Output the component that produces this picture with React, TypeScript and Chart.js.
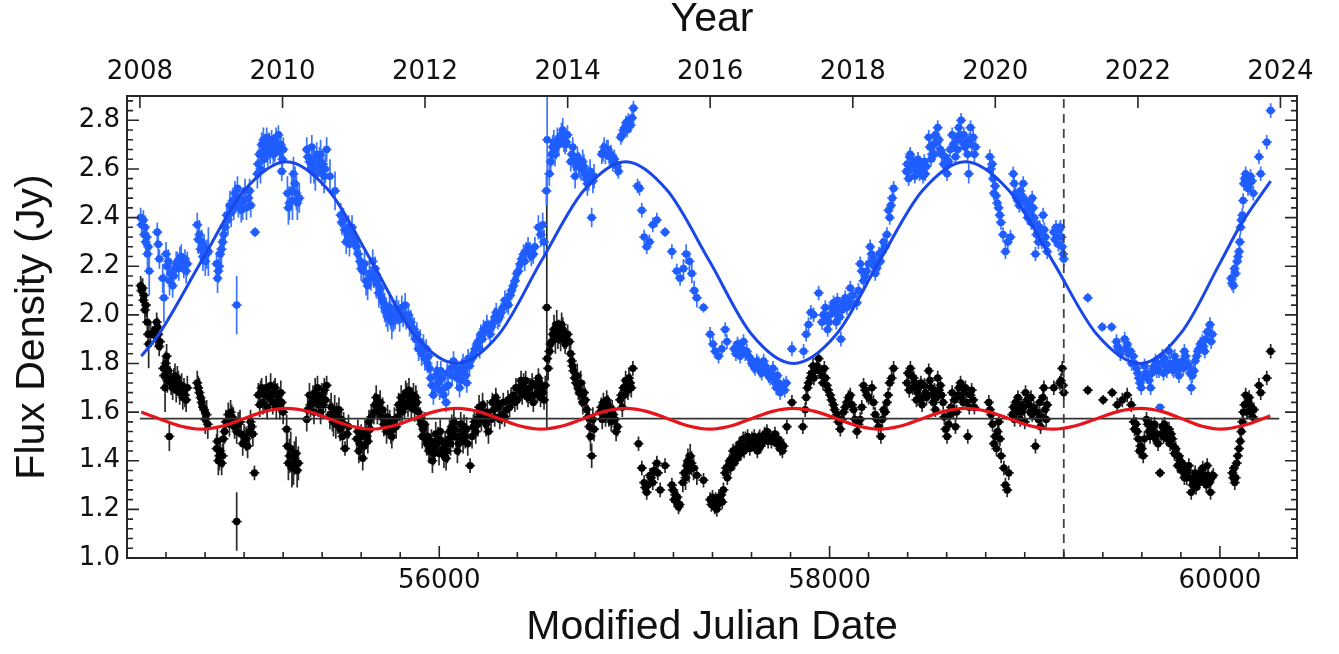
import React, { useEffect, useRef } from "react";
import { Chart, registerables } from "chart.js";

Chart.register(...registerables);

// ---------- axes ----------
const X_MIN = 54400;
const X_MAX = 60395;
const Y_MIN = 1.0;
const Y_MAX = 2.9;
const yearLabels = ["2008", "2010", "2012", "2014", "2016", "2018", "2020", "2022", "2024"];
const yearMjd = [54466, 55197, 55927, 56658, 57388, 58119, 58849, 59580, 60310];
const mjdStep = 200;
const mjdMajorStep = 2000;
const fluxStep = 0.04;
const fluxMajorEvery = 5;

// ---------- observations: [MJD, flux (Jy), error (Jy)] ----------
const blueObs: [number, number, number][] = [
  [54470, 2.4, 0.04], [54484, 2.39, 0.04], [54492, 2.36, 0.05], [54501, 2.32, 0.05], [54509, 2.28, 0.06], [54514, 2.18, 0.1],
  [54475, 2.37, 0.04], [54488, 2.33, 0.05], [54496, 2.3, 0.05], [54505, 2.25, 0.06],
  [54555, 2.34, 0.04], [54560, 2.29, 0.05], [54566, 2.23, 0.04],
  [54583, 2.15, 0.06], [54589, 2.07, 0.1], [54600, 2.25, 0.05], [54612, 2.22, 0.05], [54624, 2.17, 0.05], [54634, 2.12, 0.05], [54646, 2.19, 0.04],
  [54604, 2.2, 0.05], [54618, 2.14, 0.06], [54640, 2.16, 0.05], [54652, 2.21, 0.05], [54665, 2.19, 0.05], [54678, 2.24, 0.05], [54691, 2.2, 0.05], [54703, 2.18, 0.05],
  [54658, 2.22, 0.04], [54671, 2.23, 0.05], [54685, 2.21, 0.04], [54697, 2.23, 0.04], [54709, 2.21, 0.05],
  [54760, 2.37, 0.05], [54771, 2.33, 0.06], [54783, 2.3, 0.05], [54795, 2.28, 0.05], [54808, 2.25, 0.06], [54817, 2.26, 0.1],
  [54765, 2.31, 0.06], [54777, 2.27, 0.06], [54789, 2.24, 0.06], [54801, 2.22, 0.06],
  [54859, 2.21, 0.05], [54868, 2.18, 0.05], [54877, 2.25, 0.06], [54890, 2.3, 0.06], [54902, 2.36, 0.06],
  [54864, 2.15, 0.06], [54872, 2.2, 0.06], [54884, 2.27, 0.06], [54896, 2.33, 0.06],
  [54911, 2.41, 0.05], [54928, 2.45, 0.06], [54941, 2.47, 0.05], [54953, 2.5, 0.05], [54971, 2.45, 0.05], [54979, 2.48, 0.05],
  [54917, 2.39, 0.06], [54934, 2.42, 0.06], [54947, 2.44, 0.05], [54958, 2.47, 0.05], [54966, 2.52, 0.05], [54985, 2.43, 0.05], [54999, 2.47, 0.05], [55012, 2.44, 0.05], [55028, 2.51, 0.05],
  [54962, 2.04, 0.12],
  [54993, 2.44, 0.05], [55005, 2.51, 0.05], [55022, 2.48, 0.05], [55034, 2.45, 0.05],
  [55056, 2.34, 0.02],
  [55068, 2.58, 0.06], [55078, 2.66, 0.05], [55090, 2.7, 0.05], [55099, 2.72, 0.05], [55107, 2.69, 0.05], [55116, 2.73, 0.04],
  [55072, 2.62, 0.06], [55084, 2.6, 0.06], [55095, 2.67, 0.05], [55103, 2.64, 0.05], [55112, 2.68, 0.05], [55121, 2.66, 0.05], [55134, 2.67, 0.05], [55146, 2.69, 0.05], [55158, 2.68, 0.05], [55169, 2.7, 0.05], [55182, 2.67, 0.05], [55196, 2.64, 0.05],
  [55129, 2.7, 0.05], [55141, 2.72, 0.04], [55150, 2.66, 0.05], [55164, 2.73, 0.04], [55176, 2.74, 0.04], [55188, 2.7, 0.05], [55201, 2.68, 0.05], [55193, 2.59, 0.04],
  [55222, 2.5, 0.07], [55232, 2.46, 0.07], [55244, 2.51, 0.08], [55253, 2.58, 0.07], [55261, 2.54, 0.07], [55273, 2.46, 0.07], [55283, 2.48, 0.06],
  [55227, 2.44, 0.07], [55248, 2.47, 0.08], [55268, 2.5, 0.07],
  [55321, 2.68, 0.05], [55335, 2.63, 0.05], [55347, 2.69, 0.05], [55358, 2.61, 0.07], [55372, 2.66, 0.05], [55386, 2.63, 0.06], [55398, 2.59, 0.06], [55410, 2.57, 0.07], [55423, 2.68, 0.05],
  [55327, 2.65, 0.05], [55341, 2.6, 0.06], [55352, 2.64, 0.06], [55365, 2.58, 0.07], [55378, 2.61, 0.06], [55392, 2.66, 0.06], [55404, 2.62, 0.06], [55416, 2.6, 0.06],
  [55440, 2.57, 0.07], [55466, 2.51, 0.08],
  [55495, 2.41, 0.05], [55509, 2.39, 0.05], [55523, 2.3, 0.05], [55535, 2.36, 0.05], [55546, 2.33, 0.05], [55560, 2.32, 0.05], [55577, 2.28, 0.05],
  [55500, 2.38, 0.05], [55516, 2.35, 0.05], [55529, 2.33, 0.05], [55540, 2.29, 0.05], [55553, 2.36, 0.05], [55567, 2.3, 0.05], [55584, 2.25, 0.05],
  [55594, 2.22, 0.05], [55611, 2.18, 0.05], [55625, 2.14, 0.06], [55642, 2.17, 0.05], [55659, 2.22, 0.05], [55671, 2.19, 0.05], [55683, 2.14, 0.06], [55697, 2.11, 0.06],
  [55600, 2.19, 0.05], [55617, 2.21, 0.05], [55633, 2.12, 0.06], [55650, 2.15, 0.05], [55665, 2.16, 0.05], [55677, 2.13, 0.06], [55690, 2.09, 0.06], [55704, 2.07, 0.06],
  [55714, 2.05, 0.06], [55728, 2.01, 0.06], [55745, 2.03, 0.06], [55757, 1.97, 0.07], [55774, 2.0, 0.06], [55791, 2.01, 0.05], [55808, 2.03, 0.05], [55825, 2.04, 0.05], [55842, 2.0, 0.05], [55854, 1.97, 0.05],
  [55720, 2.03, 0.06], [55736, 1.99, 0.06], [55751, 2.0, 0.06], [55765, 1.99, 0.06], [55781, 2.02, 0.06], [55797, 1.98, 0.05], [55815, 2.0, 0.05], [55831, 1.99, 0.05], [55848, 1.96, 0.05], [55860, 1.95, 0.05],
  [55871, 1.94, 0.05], [55885, 1.92, 0.05], [55902, 1.89, 0.05], [55919, 1.87, 0.05], [55933, 1.86, 0.04], [55945, 1.83, 0.04],
  [55878, 1.9, 0.05], [55894, 1.86, 0.05], [55910, 1.84, 0.05], [55926, 1.82, 0.05], [55940, 1.8, 0.04],
  [55950, 1.78, 0.04], [55962, 1.71, 0.05], [55970, 1.67, 0.04], [55984, 1.75, 0.04], [55996, 1.72, 0.04], [56008, 1.77, 0.04], [56022, 1.67, 0.04], [56035, 1.64, 0.04], [56047, 1.71, 0.04],
  [55956, 1.74, 0.04], [55977, 1.7, 0.04], [55990, 1.77, 0.04], [56002, 1.69, 0.04], [56015, 1.74, 0.04], [56028, 1.7, 0.04], [56041, 1.76, 0.04],
  [56059, 1.78, 0.04], [56073, 1.81, 0.04], [56090, 1.74, 0.04], [56104, 1.7, 0.04], [56116, 1.78, 0.04], [56128, 1.77, 0.04], [56141, 1.72, 0.04], [56155, 1.79, 0.04],
  [56066, 1.75, 0.04], [56082, 1.78, 0.04], [56097, 1.76, 0.04], [56110, 1.73, 0.04], [56122, 1.8, 0.04], [56135, 1.75, 0.04], [56148, 1.82, 0.04],
  [56167, 1.82, 0.04], [56184, 1.86, 0.04], [56201, 1.89, 0.04], [56213, 1.92, 0.04], [56227, 1.94, 0.04], [56244, 1.96, 0.04], [56261, 1.92, 0.04], [56278, 1.97, 0.04],
  [56175, 1.84, 0.04], [56192, 1.88, 0.04], [56207, 1.86, 0.04], [56220, 1.9, 0.04], [56235, 1.93, 0.04], [56252, 1.94, 0.04], [56268, 1.95, 0.04], [56285, 1.99, 0.04],
  [56292, 2.01, 0.04], [56309, 1.99, 0.04], [56326, 2.03, 0.04], [56346, 2.05, 0.04], [56363, 2.08, 0.04],
  [56300, 1.98, 0.04], [56318, 2.01, 0.04], [56336, 2.06, 0.04], [56354, 2.04, 0.04], [56370, 2.1, 0.04], [56388, 2.14, 0.04], [56405, 2.18, 0.04], [56423, 2.23, 0.04], [56438, 2.22, 0.04], [56455, 2.28, 0.04], [56472, 2.24, 0.04], [56490, 2.28, 0.04],
  [56380, 2.12, 0.04], [56397, 2.17, 0.04], [56415, 2.21, 0.04], [56432, 2.25, 0.04], [56445, 2.26, 0.04],
  [56465, 2.26, 0.04], [56482, 2.25, 0.04],
  [56508, 2.36, 0.05], [56520, 2.33, 0.05], [56530, 2.37, 0.05], [56537, 2.3, 0.05],
  [56549, 2.51, 0.06], [56553, 2.72, 0.25],
  [56564, 2.58, 0.05], [56571, 2.63, 0.05], [56581, 2.69, 0.05], [56593, 2.66, 0.05], [56605, 2.72, 0.05], [56619, 2.73, 0.04], [56633, 2.76, 0.05], [56645, 2.7, 0.04], [56657, 2.74, 0.04],
  [56575, 2.66, 0.05], [56587, 2.71, 0.05], [56599, 2.69, 0.05], [56612, 2.7, 0.05], [56626, 2.74, 0.05], [56639, 2.72, 0.05], [56651, 2.71, 0.04],
  [56674, 2.63, 0.04], [56684, 2.69, 0.04], [56696, 2.57, 0.05], [56708, 2.65, 0.04], [56722, 2.61, 0.05], [56735, 2.63, 0.05], [56747, 2.58, 0.05], [56759, 2.54, 0.05], [56773, 2.59, 0.05], [56781, 2.4, 0.04], [56793, 2.57, 0.05],
  [56679, 2.66, 0.04], [56690, 2.64, 0.05], [56702, 2.61, 0.05], [56715, 2.62, 0.05], [56728, 2.6, 0.05], [56741, 2.61, 0.05], [56753, 2.56, 0.05], [56766, 2.56, 0.05], [56787, 2.55, 0.05],
  [56833, 2.66, 0.04], [56845, 2.69, 0.04], [56858, 2.68, 0.04], [56872, 2.65, 0.04], [56889, 2.63, 0.04], [56906, 2.62, 0.04], [56918, 2.59, 0.03],
  [56839, 2.67, 0.04], [56851, 2.66, 0.04], [56865, 2.68, 0.04], [56880, 2.66, 0.04], [56897, 2.64, 0.04], [56912, 2.61, 0.04],
  [56930, 2.73, 0.03], [56944, 2.76, 0.03], [56957, 2.79, 0.03], [56969, 2.8, 0.03], [56981, 2.78, 0.03], [56995, 2.85, 0.03],
  [56937, 2.74, 0.03], [56950, 2.77, 0.03], [56963, 2.76, 0.03], [56975, 2.79, 0.03], [56988, 2.81, 0.03],
  [57016, 2.53, 0.03], [57026, 2.52, 0.03], [57038, 2.43, 0.03], [57050, 2.32, 0.03], [57063, 2.28, 0.03], [57077, 2.3, 0.03], [57094, 2.37, 0.03], [57115, 2.39, 0.03], [57157, 2.34, 0.02],
  [57192, 2.26, 0.03], [57217, 2.18, 0.03], [57234, 2.15, 0.03], [57251, 2.19, 0.04], [57265, 2.25, 0.04], [57282, 2.22, 0.04], [57294, 2.17, 0.04], [57306, 2.1, 0.04], [57320, 2.07, 0.04],
  [57354, 2.03, 0.02],
  [57388, 1.92, 0.03], [57402, 1.88, 0.03], [57414, 1.85, 0.03], [57431, 1.83, 0.03], [57448, 1.86, 0.03], [57465, 1.94, 0.03], [57474, 1.89, 0.03],
  [57511, 1.86, 0.03], [57528, 1.88, 0.03], [57542, 1.83, 0.03], [57559, 1.89, 0.03], [57576, 1.85, 0.03], [57593, 1.82, 0.03], [57610, 1.79, 0.03], [57627, 1.81, 0.03], [57645, 1.77, 0.03],
  [57520, 1.84, 0.03], [57535, 1.87, 0.03], [57550, 1.86, 0.03], [57568, 1.84, 0.03], [57585, 1.83, 0.03], [57602, 1.8, 0.03], [57618, 1.78, 0.03], [57636, 1.8, 0.03], [57652, 1.76, 0.03],
  [57662, 1.81, 0.03], [57679, 1.77, 0.03], [57696, 1.74, 0.03], [57710, 1.78, 0.03], [57721, 1.72, 0.03], [57733, 1.75, 0.03], [57747, 1.68, 0.03], [57764, 1.71, 0.03], [57778, 1.72, 0.03],
  [57670, 1.79, 0.03], [57688, 1.75, 0.03], [57704, 1.76, 0.03], [57716, 1.74, 0.03], [57727, 1.7, 0.03], [57740, 1.72, 0.03], [57755, 1.7, 0.03], [57770, 1.69, 0.03],
  [57807, 1.86, 0.03],
  [57867, 1.85, 0.03], [57880, 1.92, 0.03], [57892, 1.96, 0.03], [57904, 2.01, 0.03], [57918, 2.0, 0.03],
  [57944, 2.09, 0.03],
  [57961, 1.97, 0.03], [57978, 2.03, 0.03], [57990, 1.94, 0.03], [58003, 2.0, 0.03], [58020, 2.05, 0.03], [58034, 1.97, 0.03], [58046, 2.03, 0.03], [58058, 1.9, 0.03], [58072, 2.05, 0.03], [58089, 2.03, 0.03], [58106, 2.11, 0.03], [58120, 2.08, 0.03],
  [57968, 2.0, 0.03], [57984, 1.99, 0.03], [57997, 1.97, 0.03], [58010, 2.03, 0.03], [58027, 2.01, 0.03], [58040, 2.06, 0.03], [58052, 1.99, 0.03], [58065, 2.02, 0.03], [58080, 2.07, 0.03], [58097, 2.06, 0.03], [58113, 2.04, 0.03],
  [58140, 2.05, 0.03], [58157, 2.21, 0.03], [58174, 2.14, 0.03], [58191, 2.18, 0.03], [58208, 2.28, 0.03], [58222, 2.23, 0.03],
  [58148, 2.1, 0.03], [58165, 2.18, 0.03], [58182, 2.16, 0.03], [58199, 2.21, 0.03], [58215, 2.25, 0.03], [58228, 2.2, 0.03], [58240, 2.19, 0.03], [58253, 2.25, 0.03], [58268, 2.26, 0.03], [58285, 2.28, 0.03], [58308, 2.4, 0.03], [58321, 2.48, 0.03],
  [58234, 2.17, 0.03], [58246, 2.21, 0.03], [58260, 2.22, 0.03], [58277, 2.3, 0.03], [58294, 2.33, 0.03], [58302, 2.43, 0.03], [58315, 2.45, 0.03], [58328, 2.52, 0.03],
  [58394, 2.59, 0.03], [58400, 2.59, 0.03], [58411, 2.65, 0.03], [58413, 2.66, 0.03], [58428, 2.62, 0.03], [58431, 2.63, 0.03], [58445, 2.59, 0.03], [58448, 2.61, 0.03], [58461, 2.58, 0.03], [58462, 2.62, 0.03], [58479, 2.57, 0.03], [58496, 2.61, 0.03],
  [58398, 2.62, 0.03], [58405, 2.56, 0.03], [58418, 2.6, 0.03], [58437, 2.57, 0.03], [58453, 2.64, 0.03], [58468, 2.6, 0.03], [58485, 2.63, 0.03], [58490, 2.58, 0.03],
  [58508, 2.73, 0.03], [58525, 2.66, 0.03], [58542, 2.74, 0.03], [58554, 2.77, 0.03], [58568, 2.68, 0.03], [58585, 2.62, 0.03], [58602, 2.58, 0.03], [58628, 2.74, 0.03],
  [58514, 2.69, 0.03], [58520, 2.64, 0.03], [58531, 2.7, 0.03], [58537, 2.66, 0.03], [58548, 2.71, 0.03], [58560, 2.72, 0.03], [58574, 2.66, 0.03], [58591, 2.65, 0.03], [58596, 2.61, 0.03], [58610, 2.63, 0.03], [58618, 2.68, 0.03], [58635, 2.7, 0.03],
  [58645, 2.65, 0.03], [58662, 2.77, 0.03], [58674, 2.8, 0.03], [58688, 2.74, 0.03], [58701, 2.7, 0.03], [58713, 2.58, 0.04], [58722, 2.77, 0.03], [58736, 2.73, 0.03], [58748, 2.69, 0.03],
  [58650, 2.72, 0.03], [58656, 2.68, 0.03], [58668, 2.74, 0.03], [58680, 2.71, 0.03], [58693, 2.69, 0.03], [58707, 2.66, 0.03], [58716, 2.72, 0.03], [58728, 2.7, 0.03], [58742, 2.66, 0.03],
  [58821, 2.65, 0.03], [58833, 2.62, 0.03], [58842, 2.5, 0.03], [58859, 2.46, 0.03], [58872, 2.41, 0.03],
  [58826, 2.6, 0.03], [58838, 2.56, 0.03], [58848, 2.53, 0.03], [58853, 2.49, 0.03], [58866, 2.44, 0.03], [58878, 2.38, 0.03],
  [58889, 2.33, 0.03], [58901, 2.26, 0.03], [58913, 2.3, 0.03], [58927, 2.32, 0.03],
  [58941, 2.58, 0.03], [58953, 2.5, 0.03], [58965, 2.47, 0.03], [58978, 2.51, 0.03], [58992, 2.54, 0.03], [59004, 2.43, 0.03], [59021, 2.45, 0.03], [59038, 2.48, 0.03], [59047, 2.4, 0.03],
  [58946, 2.54, 0.03], [58959, 2.48, 0.03], [58972, 2.45, 0.03], [58985, 2.49, 0.03], [58998, 2.47, 0.03], [59010, 2.46, 0.03], [59015, 2.4, 0.03], [59027, 2.42, 0.03], [59033, 2.38, 0.03], [59043, 2.44, 0.03],
  [59055, 2.25, 0.03], [59064, 2.37, 0.03], [59081, 2.34, 0.03], [59094, 2.41, 0.03], [59106, 2.32, 0.03], [59115, 2.26, 0.03],
  [59060, 2.33, 0.03], [59070, 2.3, 0.03], [59076, 2.36, 0.03], [59087, 2.3, 0.03], [59100, 2.35, 0.03], [59110, 2.29, 0.03],
  [59149, 2.34, 0.03], [59166, 2.32, 0.03], [59183, 2.36, 0.03], [59192, 2.28, 0.03], [59200, 2.23, 0.03],
  [59155, 2.31, 0.03], [59160, 2.36, 0.03], [59172, 2.29, 0.03], [59177, 2.35, 0.03], [59188, 2.32, 0.03], [59196, 2.25, 0.03],
  [59323, 2.07, 0.02],
  [59397, 1.95, 0.02], [59445, 1.95, 0.02],
  [59470, 1.89, 0.03], [59482, 1.86, 0.03], [59512, 1.9, 0.03], [59525, 1.88, 0.03], [59542, 1.85, 0.03], [59556, 1.83, 0.03],
  [59476, 1.87, 0.03], [59490, 1.84, 0.03], [59518, 1.86, 0.03], [59530, 1.84, 0.03], [59548, 1.8, 0.03], [59562, 1.8, 0.03],
  [59573, 1.78, 0.03], [59585, 1.74, 0.03], [59597, 1.7, 0.03], [59614, 1.79, 0.03], [59631, 1.75, 0.03], [59645, 1.7, 0.03], [59658, 1.78, 0.03],
  [59579, 1.76, 0.03], [59591, 1.72, 0.03], [59603, 1.74, 0.03], [59620, 1.76, 0.03], [59637, 1.73, 0.03], [59651, 1.76, 0.03], [59664, 1.79, 0.03],
  [59670, 1.81, 0.03], [59688, 1.77, 0.03], [59693, 1.62, 0.01], [59705, 1.83, 0.03], [59722, 1.79, 0.03], [59739, 1.85, 0.03], [59756, 1.78, 0.03], [59773, 1.81, 0.03], [59790, 1.75, 0.03], [59807, 1.81, 0.03], [59824, 1.83, 0.03], [59841, 1.79, 0.03], [59853, 1.7, 0.03], [59867, 1.77, 0.03],
  [59676, 1.77, 0.03], [59682, 1.8, 0.03], [59699, 1.8, 0.03], [59711, 1.76, 0.03], [59716, 1.82, 0.03], [59728, 1.77, 0.03], [59745, 1.8, 0.03], [59762, 1.77, 0.03], [59768, 1.83, 0.03], [59779, 1.79, 0.03], [59796, 1.78, 0.03], [59813, 1.78, 0.03], [59818, 1.85, 0.03], [59830, 1.8, 0.03], [59847, 1.76, 0.03], [59858, 1.75, 0.03], [59873, 1.81, 0.03],
  [59881, 1.83, 0.03], [59893, 1.86, 0.03], [59910, 1.89, 0.03], [59922, 1.85, 0.03], [59935, 1.93, 0.03], [59949, 1.96, 0.03], [59961, 1.92, 0.03],
  [59887, 1.85, 0.03], [59900, 1.88, 0.03], [59916, 1.87, 0.03], [59928, 1.9, 0.03], [59942, 1.93, 0.03], [59955, 1.89, 0.03],
  [60058, 2.15, 0.03], [60069, 2.12, 0.03], [60081, 2.17, 0.03], [60089, 2.22, 0.03], [60098, 2.26, 0.03],
  [60062, 2.13, 0.03], [60075, 2.19, 0.03], [60093, 2.24, 0.03], [60102, 2.3, 0.03], [60110, 2.39, 0.03], [60119, 2.47, 0.03], [60127, 2.56, 0.03], [60138, 2.55, 0.03], [60150, 2.54, 0.03], [60164, 2.55, 0.03],
  [60106, 2.36, 0.03], [60115, 2.41, 0.03], [60123, 2.54, 0.03], [60132, 2.58, 0.03], [60144, 2.52, 0.03], [60157, 2.57, 0.03], [60171, 2.5, 0.03],
  [60200, 2.65, 0.03], [60209, 2.58, 0.03], [60240, 2.71, 0.03], [60260, 2.84, 0.03],
];

const blackObs: [number, number, number][] = [
  [54470, 2.12, 0.04], [54480, 2.11, 0.04], [54487, 2.08, 0.04], [54497, 2.04, 0.05], [54504, 1.97, 0.05], [54511, 1.88, 0.1], [54521, 1.92, 0.05],
  [54474, 2.1, 0.04], [54484, 2.06, 0.04], [54492, 2.02, 0.04], [54508, 1.92, 0.06],
  [54543, 1.94, 0.04], [54552, 1.97, 0.04], [54560, 1.92, 0.04], [54569, 1.89, 0.04],
  [54548, 1.91, 0.04], [54556, 1.95, 0.04], [54565, 1.87, 0.04],
  [54586, 1.78, 0.05], [54595, 1.7, 0.1], [54603, 1.83, 0.05], [54612, 1.77, 0.05], [54617, 1.5, 0.06], [54620, 1.74, 0.05], [54634, 1.7, 0.05],
  [54590, 1.75, 0.06], [54598, 1.8, 0.05], [54607, 1.73, 0.05], [54626, 1.72, 0.05], [54640, 1.73, 0.05],
  [54646, 1.75, 0.05], [54663, 1.72, 0.05], [54680, 1.71, 0.05], [54697, 1.67, 0.05], [54709, 1.7, 0.05],
  [54652, 1.69, 0.05], [54658, 1.74, 0.05], [54670, 1.68, 0.05], [54686, 1.66, 0.05], [54692, 1.69, 0.05], [54703, 1.65, 0.05],
  [54760, 1.72, 0.05], [54771, 1.68, 0.06], [54783, 1.64, 0.05], [54795, 1.61, 0.05], [54808, 1.59, 0.06],
  [54765, 1.7, 0.05], [54777, 1.66, 0.05], [54789, 1.62, 0.05], [54801, 1.57, 0.06], [54814, 1.55, 0.06],
  [54859, 1.45, 0.06], [54873, 1.42, 0.06], [54885, 1.39, 0.05], [54894, 1.49, 0.05], [54907, 1.56, 0.05],
  [54863, 1.48, 0.06], [54868, 1.4, 0.06], [54878, 1.44, 0.06], [54890, 1.42, 0.05], [54900, 1.52, 0.05],
  [54919, 1.59, 0.05], [54931, 1.6, 0.05], [54945, 1.57, 0.05], [54962, 1.52, 0.05], [54979, 1.56, 0.05],
  [54925, 1.55, 0.05], [54937, 1.58, 0.05], [54951, 1.54, 0.05], [54970, 1.55, 0.05], [54985, 1.51, 0.05],
  [54962, 1.15, 0.12],
  [54993, 1.47, 0.05], [55010, 1.49, 0.05], [55027, 1.52, 0.05], [55039, 1.54, 0.05], [55053, 1.35, 0.03],
  [55000, 1.5, 0.05], [55018, 1.46, 0.05], [55033, 1.56, 0.05], [55045, 1.51, 0.05],
  [55073, 1.67, 0.05], [55090, 1.7, 0.04], [55107, 1.67, 0.04], [55124, 1.68, 0.04], [55141, 1.67, 0.04], [55159, 1.7, 0.04], [55176, 1.65, 0.04], [55193, 1.64, 0.04],
  [55080, 1.63, 0.05], [55085, 1.68, 0.05], [55097, 1.64, 0.05], [55113, 1.7, 0.05], [55118, 1.62, 0.05], [55130, 1.66, 0.05], [55136, 1.71, 0.05], [55147, 1.64, 0.05], [55153, 1.68, 0.05], [55165, 1.62, 0.05], [55170, 1.67, 0.05], [55183, 1.62, 0.05], [55188, 1.68, 0.05], [55200, 1.6, 0.05],
  [55218, 1.53, 0.06], [55227, 1.39, 0.07], [55239, 1.45, 0.07], [55253, 1.38, 0.08], [55266, 1.43, 0.07], [55278, 1.39, 0.07],
  [55222, 1.46, 0.07], [55233, 1.42, 0.07], [55245, 1.37, 0.08], [55258, 1.41, 0.07], [55272, 1.36, 0.07],
  [55321, 1.57, 0.05], [55335, 1.67, 0.05], [55347, 1.64, 0.05], [55364, 1.68, 0.06], [55381, 1.63, 0.05], [55398, 1.67, 0.05], [55423, 1.71, 0.04],
  [55326, 1.61, 0.05], [55340, 1.63, 0.05], [55353, 1.66, 0.05], [55358, 1.6, 0.05], [55370, 1.65, 0.05], [55376, 1.7, 0.05], [55387, 1.66, 0.05], [55392, 1.6, 0.05], [55405, 1.63, 0.05], [55411, 1.69, 0.05], [55417, 1.65, 0.05],
  [55440, 1.59, 0.06], [55458, 1.56, 0.06], [55475, 1.59, 0.05], [55492, 1.53, 0.05], [55517, 1.45, 0.03], [55535, 1.54, 0.05],
  [55446, 1.62, 0.06], [55452, 1.58, 0.06], [55464, 1.61, 0.06], [55470, 1.55, 0.06], [55481, 1.56, 0.05], [55486, 1.61, 0.05], [55498, 1.57, 0.05], [55504, 1.5, 0.05], [55510, 1.55, 0.05], [55528, 1.51, 0.05],
  [55577, 1.49, 0.05], [55594, 1.47, 0.05], [55608, 1.41, 0.05], [55628, 1.5, 0.05], [55646, 1.53, 0.05],
  [55583, 1.52, 0.05], [55588, 1.44, 0.05], [55600, 1.5, 0.05], [55615, 1.46, 0.05], [55620, 1.52, 0.05], [55634, 1.48, 0.05], [55640, 1.56, 0.05], [55652, 1.58, 0.05],
  [55671, 1.63, 0.05], [55683, 1.6, 0.05], [55697, 1.64, 0.05], [55723, 1.56, 0.05], [55740, 1.54, 0.05], [55757, 1.5, 0.05], [55779, 1.54, 0.05],
  [55665, 1.6, 0.05], [55677, 1.66, 0.05], [55690, 1.62, 0.05], [55703, 1.58, 0.05], [55710, 1.61, 0.05], [55716, 1.55, 0.05], [55730, 1.52, 0.05], [55735, 1.58, 0.05], [55746, 1.56, 0.05], [55752, 1.52, 0.05], [55763, 1.53, 0.05], [55770, 1.57, 0.05], [55786, 1.58, 0.05], [55792, 1.63, 0.05],
  [55799, 1.61, 0.05], [55816, 1.64, 0.05], [55834, 1.67, 0.05], [55851, 1.65, 0.05], [55868, 1.67, 0.05], [55885, 1.64, 0.05],
  [55805, 1.66, 0.05], [55810, 1.6, 0.05], [55822, 1.62, 0.05], [55828, 1.68, 0.05], [55840, 1.63, 0.05], [55845, 1.69, 0.05], [55857, 1.62, 0.05], [55862, 1.65, 0.05], [55874, 1.61, 0.05], [55880, 1.66, 0.05], [55893, 1.6, 0.05],
  [55902, 1.57, 0.05], [55919, 1.53, 0.05], [55936, 1.47, 0.05], [55953, 1.46, 0.05], [55970, 1.43, 0.05], [55987, 1.47, 0.05], [56005, 1.52, 0.05], [56018, 1.45, 0.05], [56035, 1.41, 0.05],
  [55908, 1.55, 0.05], [55913, 1.5, 0.05], [55925, 1.55, 0.05], [55930, 1.49, 0.05], [55942, 1.5, 0.05], [55947, 1.44, 0.05], [55960, 1.48, 0.05], [55965, 1.4, 0.05], [55977, 1.45, 0.05], [55982, 1.51, 0.05], [55994, 1.49, 0.05], [55999, 1.43, 0.05], [56011, 1.48, 0.05], [56024, 1.42, 0.05], [56030, 1.47, 0.05], [56041, 1.44, 0.05],
  [56047, 1.49, 0.05], [56064, 1.54, 0.05], [56081, 1.53, 0.05], [56099, 1.47, 0.05], [56116, 1.52, 0.05], [56133, 1.5, 0.05], [56158, 1.38, 0.03],
  [56053, 1.52, 0.05], [56058, 1.47, 0.05], [56070, 1.5, 0.05], [56075, 1.56, 0.05], [56087, 1.5, 0.05], [56093, 1.44, 0.05], [56105, 1.5, 0.05], [56110, 1.55, 0.05], [56122, 1.48, 0.05], [56127, 1.54, 0.05], [56140, 1.53, 0.05], [56146, 1.47, 0.05],
  [56175, 1.54, 0.05], [56193, 1.57, 0.05], [56210, 1.59, 0.05], [56227, 1.6, 0.05], [56252, 1.52, 0.05],
  [56168, 1.5, 0.05], [56180, 1.56, 0.05], [56187, 1.52, 0.05], [56198, 1.55, 0.05], [56204, 1.62, 0.05], [56216, 1.57, 0.05], [56222, 1.63, 0.05], [56234, 1.58, 0.05], [56240, 1.55, 0.05], [56246, 1.6, 0.05],
  [56278, 1.61, 0.04], [56295, 1.64, 0.04], [56321, 1.59, 0.04], [56346, 1.61, 0.04],
  [56265, 1.57, 0.04], [56272, 1.64, 0.04], [56284, 1.58, 0.04], [56290, 1.66, 0.04], [56303, 1.62, 0.04], [56310, 1.57, 0.04], [56328, 1.64, 0.04], [56335, 1.58, 0.04], [56352, 1.65, 0.04], [56360, 1.62, 0.04], [56368, 1.66, 0.04],
  [56380, 1.67, 0.04], [56406, 1.7, 0.04], [56432, 1.72, 0.04],
  [56387, 1.64, 0.04], [56393, 1.7, 0.04], [56400, 1.65, 0.04], [56412, 1.69, 0.04], [56419, 1.73, 0.04], [56425, 1.67, 0.04], [56438, 1.69, 0.04], [56443, 1.73, 0.04],
  [56448, 1.68, 0.04], [56465, 1.7, 0.04], [56482, 1.64, 0.04], [56508, 1.74, 0.04], [56525, 1.7, 0.04], [56537, 1.65, 0.04],
  [56455, 1.66, 0.04], [56470, 1.67, 0.04], [56476, 1.72, 0.04], [56488, 1.67, 0.04], [56495, 1.71, 0.04], [56502, 1.68, 0.04], [56514, 1.72, 0.04], [56519, 1.66, 0.04], [56531, 1.68, 0.04], [56543, 1.71, 0.04],
  [56551, 2.03, 0.5],
  [56553, 1.82, 0.05], [56564, 1.85, 0.05], [56576, 1.89, 0.05], [56588, 1.94, 0.06], [56602, 1.96, 0.06], [56616, 1.93, 0.05], [56633, 1.94, 0.05], [56650, 1.9, 0.04], [56667, 1.89, 0.04],
  [56558, 1.78, 0.05], [56570, 1.88, 0.05], [56582, 1.92, 0.05], [56595, 1.9, 0.06], [56608, 1.92, 0.06], [56622, 1.9, 0.05], [56627, 1.96, 0.05], [56640, 1.91, 0.05], [56645, 1.88, 0.04], [56658, 1.92, 0.04],
  [56679, 1.81, 0.04], [56687, 1.77, 0.04], [56701, 1.72, 0.05], [56713, 1.7, 0.05], [56730, 1.67, 0.05], [56742, 1.68, 0.05], [56756, 1.61, 0.05], [56769, 1.54, 0.06], [56781, 1.42, 0.05], [56793, 1.53, 0.05],
  [56673, 1.84, 0.04], [56683, 1.79, 0.04], [56694, 1.74, 0.05], [56707, 1.75, 0.05], [56719, 1.68, 0.05], [56725, 1.72, 0.05], [56736, 1.64, 0.05], [56748, 1.65, 0.05], [56762, 1.58, 0.05], [56775, 1.5, 0.06], [56787, 1.57, 0.05],
  [56824, 1.6, 0.04], [56841, 1.64, 0.04], [56858, 1.65, 0.04], [56875, 1.61, 0.04], [56892, 1.59, 0.04], [56913, 1.54, 0.04],
  [56830, 1.62, 0.04], [56835, 1.57, 0.04], [56847, 1.62, 0.04], [56852, 1.58, 0.04], [56864, 1.63, 0.04], [56869, 1.58, 0.04], [56881, 1.56, 0.04], [56886, 1.61, 0.04], [56899, 1.57, 0.04], [56906, 1.52, 0.04],
  [56927, 1.65, 0.04], [56944, 1.7, 0.04], [56961, 1.71, 0.04], [56978, 1.72, 0.04], [56992, 1.78, 0.03],
  [56933, 1.67, 0.04], [56938, 1.62, 0.04], [56950, 1.67, 0.04], [56955, 1.73, 0.04], [56967, 1.69, 0.04], [56972, 1.74, 0.04], [56984, 1.7, 0.04],
  [57021, 1.47, 0.03], [57038, 1.37, 0.03], [57050, 1.31, 0.03], [57063, 1.27, 0.03], [57080, 1.34, 0.03], [57094, 1.31, 0.03], [57115, 1.39, 0.03], [57132, 1.28, 0.03], [57157, 1.38, 0.03],
  [57055, 1.29, 0.03], [57070, 1.3, 0.03], [57086, 1.33, 0.03], [57100, 1.36, 0.03], [57120, 1.35, 0.03],
  [57192, 1.3, 0.03], [57209, 1.26, 0.03], [57226, 1.21, 0.03], [57248, 1.31, 0.04], [57268, 1.38, 0.05], [57286, 1.42, 0.05], [57303, 1.37, 0.05], [57320, 1.34, 0.04], [57354, 1.32, 0.03],
  [57198, 1.28, 0.03], [57204, 1.24, 0.03], [57215, 1.23, 0.03], [57220, 1.25, 0.03], [57232, 1.22, 0.03],
  [57255, 1.35, 0.05], [57262, 1.33, 0.05], [57274, 1.4, 0.05], [57280, 1.36, 0.05], [57292, 1.39, 0.05],
  [57388, 1.24, 0.03], [57405, 1.23, 0.03], [57422, 1.2, 0.03], [57439, 1.24, 0.03], [57456, 1.28, 0.03],
  [57394, 1.22, 0.03], [57400, 1.25, 0.03], [57411, 1.21, 0.03], [57416, 1.24, 0.03], [57428, 1.22, 0.03], [57433, 1.25, 0.03], [57445, 1.26, 0.03], [57450, 1.23, 0.03],
  [57465, 1.35, 0.03], [57482, 1.38, 0.03], [57499, 1.41, 0.03], [57516, 1.42, 0.03], [57533, 1.45, 0.03], [57551, 1.46, 0.03], [57568, 1.49, 0.03], [57585, 1.47, 0.03], [57602, 1.49, 0.03], [57619, 1.46, 0.03], [57636, 1.49, 0.03], [57653, 1.47, 0.03], [57679, 1.52, 0.03], [57696, 1.5, 0.03], [57713, 1.49, 0.03], [57730, 1.47, 0.03], [57747, 1.45, 0.03], [57764, 1.46, 0.03],
  [57470, 1.37, 0.03], [57476, 1.33, 0.03], [57488, 1.4, 0.03], [57493, 1.37, 0.03], [57505, 1.44, 0.03], [57510, 1.39, 0.03], [57522, 1.45, 0.03], [57527, 1.41, 0.03], [57539, 1.47, 0.03], [57545, 1.43, 0.03], [57557, 1.49, 0.03], [57562, 1.44, 0.03], [57574, 1.46, 0.03], [57580, 1.5, 0.03], [57591, 1.45, 0.03], [57597, 1.48, 0.03], [57608, 1.47, 0.03], [57614, 1.5, 0.03], [57625, 1.48, 0.03], [57630, 1.44, 0.03], [57642, 1.5, 0.03], [57647, 1.46, 0.03], [57660, 1.49, 0.03], [57667, 1.51, 0.03], [57685, 1.48, 0.03], [57702, 1.48, 0.03], [57720, 1.51, 0.03], [57736, 1.49, 0.03], [57753, 1.47, 0.03], [57758, 1.44, 0.03],
  [57781, 1.54, 0.03], [57807, 1.64, 0.03], [57863, 1.54, 0.03],
  [57875, 1.61, 0.03], [57887, 1.7, 0.03], [57901, 1.74, 0.03], [57915, 1.79, 0.03], [57926, 1.77, 0.03], [57944, 1.82, 0.03],
  [57880, 1.66, 0.03], [57893, 1.72, 0.03], [57907, 1.76, 0.03], [57920, 1.74, 0.03], [57935, 1.79, 0.03], [57950, 1.77, 0.03],
  [57961, 1.75, 0.03], [57973, 1.78, 0.03], [57986, 1.71, 0.03], [58003, 1.67, 0.03], [58020, 1.63, 0.03], [58037, 1.59, 0.03], [58055, 1.53, 0.03], [58072, 1.6, 0.03], [58089, 1.64, 0.03], [58106, 1.67, 0.03], [58123, 1.61, 0.03],
  [57966, 1.72, 0.03], [57979, 1.74, 0.03], [57992, 1.69, 0.03], [58010, 1.65, 0.03], [58026, 1.61, 0.03], [58045, 1.56, 0.03], [58063, 1.57, 0.03], [58080, 1.62, 0.03], [58097, 1.66, 0.03], [58115, 1.63, 0.03],
  [58140, 1.52, 0.03], [58157, 1.57, 0.03], [58174, 1.71, 0.03], [58191, 1.67, 0.03], [58217, 1.7, 0.03], [58234, 1.59, 0.03], [58251, 1.54, 0.03], [58263, 1.5, 0.03], [58277, 1.61, 0.03], [58294, 1.64, 0.03], [58308, 1.72, 0.03], [58328, 1.78, 0.03],
  [58130, 1.57, 0.03], [58148, 1.55, 0.03], [58165, 1.62, 0.03], [58182, 1.69, 0.03], [58200, 1.66, 0.03], [58225, 1.64, 0.03], [58242, 1.57, 0.03], [58270, 1.57, 0.03], [58285, 1.6, 0.03], [58300, 1.67, 0.03], [58318, 1.74, 0.03],
  [58397, 1.72, 0.03], [58414, 1.78, 0.03], [58431, 1.74, 0.03], [58445, 1.65, 0.03], [58457, 1.7, 0.03], [58474, 1.63, 0.03], [58491, 1.68, 0.03],
  [58402, 1.76, 0.03], [58408, 1.69, 0.03], [58420, 1.75, 0.03], [58426, 1.7, 0.03], [58437, 1.72, 0.03], [58451, 1.68, 0.03], [58463, 1.66, 0.03], [58468, 1.72, 0.03], [58480, 1.66, 0.03], [58486, 1.71, 0.03], [58497, 1.66, 0.03],
  [58508, 1.77, 0.03], [58525, 1.67, 0.03], [58542, 1.61, 0.03], [58554, 1.74, 0.03], [58568, 1.71, 0.03], [58582, 1.64, 0.03],
  [58514, 1.73, 0.03], [58520, 1.7, 0.03], [58531, 1.64, 0.03], [58537, 1.69, 0.03], [58548, 1.66, 0.03], [58560, 1.69, 0.03], [58574, 1.67, 0.03], [58588, 1.58, 0.03],
  [58594, 1.53, 0.03], [58602, 1.5, 0.03], [58616, 1.59, 0.03], [58628, 1.68, 0.03], [58645, 1.54, 0.03],
  [58610, 1.55, 0.03], [58622, 1.62, 0.03], [58634, 1.6, 0.03], [58640, 1.65, 0.03], [58651, 1.6, 0.03],
  [58657, 1.67, 0.03], [58671, 1.72, 0.03], [58684, 1.64, 0.03], [58696, 1.7, 0.03], [58708, 1.5, 0.03], [58722, 1.67, 0.03], [58736, 1.65, 0.03],
  [58663, 1.7, 0.03], [58677, 1.66, 0.03], [58690, 1.68, 0.03], [58702, 1.64, 0.03], [58716, 1.62, 0.03], [58728, 1.69, 0.03], [58742, 1.62, 0.03],
  [58816, 1.64, 0.03], [58828, 1.59, 0.03], [58842, 1.47, 0.03], [58855, 1.45, 0.03], [58867, 1.56, 0.03], [58879, 1.42, 0.03],
  [58822, 1.61, 0.03], [58835, 1.55, 0.03], [58848, 1.5, 0.03], [58861, 1.52, 0.03], [58873, 1.49, 0.03],
  [58893, 1.37, 0.03], [58901, 1.3, 0.03], [58910, 1.28, 0.03], [58918, 1.35, 0.03],
  [58936, 1.59, 0.03], [58953, 1.64, 0.03], [58970, 1.61, 0.03], [58987, 1.6, 0.03], [59004, 1.68, 0.03], [59021, 1.63, 0.03], [59038, 1.59, 0.03], [59055, 1.46, 0.03],
  [58942, 1.62, 0.03], [58948, 1.57, 0.03], [58960, 1.6, 0.03], [58965, 1.66, 0.03], [58977, 1.57, 0.03], [58982, 1.63, 0.03], [58995, 1.62, 0.03], [59000, 1.56, 0.03], [59012, 1.65, 0.03], [59027, 1.6, 0.03], [59032, 1.66, 0.03], [59045, 1.62, 0.03],
  [59064, 1.6, 0.03], [59081, 1.54, 0.03], [59098, 1.7, 0.03], [59115, 1.63, 0.03],
  [59070, 1.57, 0.03], [59076, 1.64, 0.03], [59087, 1.58, 0.03], [59093, 1.66, 0.03], [59104, 1.61, 0.03], [59110, 1.57, 0.03],
  [59149, 1.7, 0.03], [59180, 1.72, 0.03], [59192, 1.78, 0.03], [59200, 1.68, 0.03], [59186, 1.73, 0.03], [59196, 1.71, 0.03],
  [59323, 1.69, 0.02], [59402, 1.65, 0.02], [59448, 1.68, 0.02],
  [59474, 1.63, 0.03], [59500, 1.65, 0.03], [59525, 1.67, 0.03], [59546, 1.63, 0.03],
  [59559, 1.56, 0.03], [59576, 1.52, 0.03], [59593, 1.46, 0.03], [59607, 1.42, 0.03], [59624, 1.57, 0.03],
  [59563, 1.53, 0.03], [59570, 1.55, 0.03], [59582, 1.49, 0.03], [59588, 1.44, 0.03], [59600, 1.45, 0.03], [59613, 1.49, 0.03],
  [59636, 1.52, 0.03], [59653, 1.53, 0.03], [59670, 1.49, 0.03], [59693, 1.35, 0.02], [59705, 1.54, 0.03], [59722, 1.52, 0.03], [59739, 1.53, 0.03], [59756, 1.49, 0.03],
  [59630, 1.55, 0.03], [59642, 1.5, 0.03], [59648, 1.55, 0.03], [59660, 1.5, 0.03], [59665, 1.55, 0.03], [59677, 1.51, 0.03], [59683, 1.47, 0.03], [59700, 1.51, 0.03], [59711, 1.5, 0.03], [59716, 1.55, 0.03], [59728, 1.49, 0.03], [59734, 1.51, 0.03], [59745, 1.47, 0.03], [59750, 1.51, 0.03], [59762, 1.46, 0.03], [59767, 1.43, 0.03],
  [59773, 1.45, 0.03], [59790, 1.42, 0.03], [59807, 1.39, 0.03], [59824, 1.35, 0.03], [59841, 1.38, 0.03], [59853, 1.27, 0.03], [59867, 1.32, 0.03], [59884, 1.31, 0.03], [59901, 1.35, 0.03], [59918, 1.32, 0.03], [59935, 1.38, 0.03], [59952, 1.27, 0.03], [59966, 1.34, 0.03],
  [59779, 1.42, 0.03], [59784, 1.38, 0.03], [59796, 1.4, 0.03], [59802, 1.36, 0.03], [59813, 1.37, 0.03], [59818, 1.33, 0.03], [59830, 1.33, 0.03], [59836, 1.36, 0.03], [59847, 1.33, 0.03], [59860, 1.3, 0.03], [59873, 1.35, 0.03], [59878, 1.29, 0.03], [59890, 1.34, 0.03], [59895, 1.31, 0.03], [59907, 1.33, 0.03], [59912, 1.37, 0.03], [59924, 1.34, 0.03], [59930, 1.3, 0.03], [59941, 1.34, 0.03], [59946, 1.31, 0.03], [59958, 1.33, 0.03],
  [60064, 1.35, 0.03], [60076, 1.31, 0.03], [60086, 1.39, 0.03], [60098, 1.45, 0.03], [60110, 1.52, 0.03], [60120, 1.6, 0.03], [60132, 1.67, 0.03], [60144, 1.64, 0.03], [60157, 1.6, 0.03], [60174, 1.61, 0.03],
  [60068, 1.33, 0.03], [60072, 1.37, 0.03], [60081, 1.33, 0.03], [60092, 1.42, 0.03], [60104, 1.48, 0.03], [60115, 1.56, 0.03], [60126, 1.63, 0.03], [60138, 1.6, 0.03], [60150, 1.66, 0.03], [60162, 1.62, 0.03], [60168, 1.58, 0.03],
  [60200, 1.71, 0.03], [60209, 1.68, 0.03], [60240, 1.74, 0.03], [60260, 1.85, 0.03],
];

// ---------- model curves: [MJD, flux] ----------
const blueFit: [number, number][] = [
  [54473, 1.83], [54563, 1.92], [54781, 2.22], [54999, 2.51], [55217, 2.63], [55435, 2.51], [55653, 2.22],
  [55871, 1.92], [56089, 1.8], [56306, 1.92], [56522, 2.22], [56739, 2.51], [56955, 2.63], [57170, 2.51],
  [57385, 2.22], [57600, 1.92], [57815, 1.8], [58035, 1.92], [58255, 2.22], [58475, 2.51], [58695, 2.63],
  [58920, 2.51], [59144, 2.22], [59369, 1.92], [59593, 1.8], [59805, 1.93], [60005, 2.22], [60106, 2.37], [60260, 2.55],
];

const redFit: [number, number][] = [
  [54473, 1.6], [54563, 1.573], [54672, 1.543], [54781, 1.53], [54890, 1.543], [54999, 1.573], [55108, 1.603],
  [55217, 1.615], [55326, 1.603], [55435, 1.573], [55544, 1.543], [55653, 1.53], [55762, 1.543], [55871, 1.573],
  [55980, 1.603], [56089, 1.615], [56197, 1.603], [56306, 1.573], [56414, 1.543], [56522, 1.53], [56630, 1.543],
  [56739, 1.573], [56847, 1.603], [56955, 1.615], [57062, 1.603], [57170, 1.573], [57278, 1.543], [57385, 1.53],
  [57493, 1.543], [57600, 1.573], [57708, 1.603], [57815, 1.615], [57925, 1.603], [58035, 1.573], [58145, 1.543],
  [58255, 1.53], [58365, 1.543], [58475, 1.573], [58585, 1.603], [58695, 1.615], [58807, 1.603], [58920, 1.573],
  [59032, 1.543], [59144, 1.53], [59256, 1.543], [59369, 1.573], [59481, 1.603], [59593, 1.615], [59700, 1.603],
  [59805, 1.573], [59905, 1.543], [60005, 1.53], [60120, 1.545], [60258, 1.585],
];

const meanLevel = 1.573;
const meanLineSpan = [54466, 60304];
const dashedMjd = 59200;

// ---------- plugins ----------
const errorBarPlugin = {
  id: "errorBars",
  beforeDatasetDraw(chart: any, args: any) {
    const ds = chart.data.datasets[args.index];
    if (!ds.errors) return;
    const xs = chart.scales.x;
    const ys = chart.scales.y;
    const a = chart.chartArea;
    const ctx = chart.ctx as CanvasRenderingContext2D;
    ctx.save();
    ctx.beginPath();
    ctx.rect(a.left, a.top, a.right - a.left, a.bottom - a.top);
    ctx.clip();
    ctx.strokeStyle = ds.errorColor;
    ctx.lineWidth = 1.7;
    ctx.beginPath();
    ds.data.forEach((p: any, i: number) => {
      const e = ds.errors[i];
      const px = xs.getPixelForValue(p.x);
      const py = ys.getPixelForValue(p.y);
      ctx.moveTo(px, ys.getPixelForValue(p.y - e));
      ctx.lineTo(px, ys.getPixelForValue(p.y + e));
      ctx.moveTo(px - 5, py);
      ctx.lineTo(px + 5, py);
    });
    ctx.stroke();
    ctx.restore();
  },
};

const framePlugin = {
  id: "frameTicks",
  afterDraw(chart: any) {
    const { ctx, chartArea: a, scales } = chart;
    ctx.save();
    ctx.strokeStyle = "#262626";
    ctx.lineWidth = 2;
    ctx.strokeRect(a.left, a.top, a.right - a.left, a.bottom - a.top);
    ctx.lineWidth = 1.6;
    ctx.beginPath();
    scales.x.ticks.forEach((t: any) => {
      const px = scales.x.getPixelForValue(t.value);
      const L = t.value % mjdMajorStep === 0 ? 12 : 6;
      ctx.moveTo(px, a.bottom);
      ctx.lineTo(px, a.bottom - L);
    });
    scales.xTop.ticks.forEach((t: any) => {
      const px = scales.xTop.getPixelForValue(t.value);
      ctx.moveTo(px, a.top);
      ctx.lineTo(px, a.top + 12);
    });
    scales.y.ticks.forEach((t: any, i: number) => {
      const py = scales.y.getPixelForValue(t.value);
      const L = i % fluxMajorEvery === 0 ? 12 : 6;
      ctx.moveTo(a.left, py);
      ctx.lineTo(a.left + L, py);
      ctx.moveTo(a.right, py);
      ctx.lineTo(a.right - L, py);
    });
    ctx.stroke();
    ctx.restore();
  },
};

const tickFont = { family: "'DejaVu Sans', sans-serif", size: 26 };
const titleFont = { family: "'Liberation Sans', Arial, sans-serif", size: 41, lineHeight: 1 };

export default function App() {
  const ref = useRef<HTMLCanvasElement | null>(null);

  useEffect(() => {
    document.body.style.margin = "0";
    const canvas = ref.current;
    if (!canvas) return;

    const bottomTicks: number[] = [];
    for (let v = X_MIN; v <= X_MAX; v += mjdStep) bottomTicks.push(v);
    const fluxTicks: number[] = [];
    for (let i = 0; Y_MIN + i * fluxStep <= Y_MAX + 1e-9; i++) fluxTicks.push(Math.round((Y_MIN + i * fluxStep) * 100) / 100);

    const chart = new Chart(canvas, {
      type: "scatter",
      data: {
        datasets: [
          {
            type: "line",
            data: blueFit.map(([x, y]) => ({ x, y })),
            borderColor: "#1a47e8",
            borderWidth: 3,
            pointRadius: 0,
            fill: false,
            cubicInterpolationMode: "monotone",
          },
          {
            type: "line",
            data: redFit.map(([x, y]) => ({ x, y })),
            borderColor: "#e8141c",
            borderWidth: 3.2,
            pointRadius: 0,
            fill: false,
            cubicInterpolationMode: "monotone",
          },
          {
            type: "line",
            data: meanLineSpan.map((x) => ({ x, y: meanLevel })),
            borderColor: "#333333",
            borderWidth: 1.6,
            pointRadius: 0,
            fill: false,
          },
          {
            type: "line",
            data: [{ x: dashedMjd, y: Y_MIN }, { x: dashedMjd, y: Y_MAX }],
            borderColor: "#444444",
            borderWidth: 1.8,
            borderDash: [9, 6],
            pointRadius: 0,
            fill: false,
          },
          {
            type: "scatter",
            data: blueObs.map(([x, y]) => ({ x, y })),
            errors: blueObs.map((d) => d[2]),
            errorColor: "#3a74ff",
            backgroundColor: "#1f5dff",
            borderColor: "#1f5dff",
            pointRadius: 3.8,
            borderWidth: 0,
          } as any,
          {
            type: "scatter",
            data: blackObs.map(([x, y]) => ({ x, y })),
            errors: blackObs.map((d) => d[2]),
            errorColor: "#2a2a2a",
            backgroundColor: "#000000",
            borderColor: "#000000",
            pointRadius: 3.7,
            borderWidth: 0,
          } as any,
        ],
      },
      options: {
        animation: false,
        responsive: false,
        devicePixelRatio: 1,
        layout: { padding: { left: 0, right: 42, top: 0, bottom: 0 } },
        plugins: { legend: { display: false }, tooltip: { enabled: false } },
        scales: {
          x: {
            type: "linear",
            position: "bottom",
            min: X_MIN,
            max: X_MAX,
            afterBuildTicks: (s: any) => {
              s.ticks = bottomTicks.map((v) => ({ value: v }));
            },
            afterFit: (s: any) => {
              s.height = 96;
            },
            ticks: {
              autoSkip: false,
              maxRotation: 0,
              padding: 8,
              color: "#111111",
              font: tickFont,
              callback: (v: any) => (Number(v) % mjdMajorStep === 0 ? String(v) : ""),
            },
            grid: { display: false, drawTicks: false },
            border: { display: false },
            title: {
              display: true,
              text: "Modified Julian Date",
              color: "#111111",
              font: titleFont,
              padding: { top: 0, bottom: 6 },
            },
          },
          xTop: {
            type: "linear",
            position: "top",
            min: X_MIN,
            max: X_MAX,
            afterBuildTicks: (s: any) => {
              s.ticks = yearMjd.map((v) => ({ value: v }));
            },
            afterFit: (s: any) => {
              s.height = 96;
            },
            ticks: {
              autoSkip: false,
              maxRotation: 0,
              padding: 8,
              color: "#111111",
              font: tickFont,
              callback: (_v: any, i: number) => yearLabels[i],
            },
            grid: { display: false, drawTicks: false },
            border: { display: false },
            title: {
              display: true,
              text: "Year",
              color: "#111111",
              font: titleFont,
              padding: { top: -1, bottom: 0 },
            },
          },
          y: {
            type: "linear",
            position: "left",
            min: Y_MIN,
            max: Y_MAX,
            afterBuildTicks: (s: any) => {
              s.ticks = fluxTicks.map((v) => ({ value: v }));
            },
            afterFit: (s: any) => {
              s.width = 127;
            },
            ticks: {
              autoSkip: false,
              padding: 7,
              color: "#111111",
              font: tickFont,
              callback: (v: any, i: number) => (i % fluxMajorEvery === 0 ? Number(v).toFixed(1) : ""),
            },
            grid: { display: false, drawTicks: false },
            border: { display: false },
            title: {
              display: true,
              text: "Flux Density (Jy)",
              color: "#111111",
              font: titleFont,
              padding: { top: 12, bottom: 0 },
            },
          },
        },
      } as any,
      plugins: [errorBarPlugin, framePlugin],
    } as any);

    return () => chart.destroy();
  }, []);

  return (
    <div style={{ width: 1339, height: 654, background: "#ffffff" }}>
      <canvas ref={ref} width={1339} height={654} style={{ display: "block" }} />
    </div>
  );
}
